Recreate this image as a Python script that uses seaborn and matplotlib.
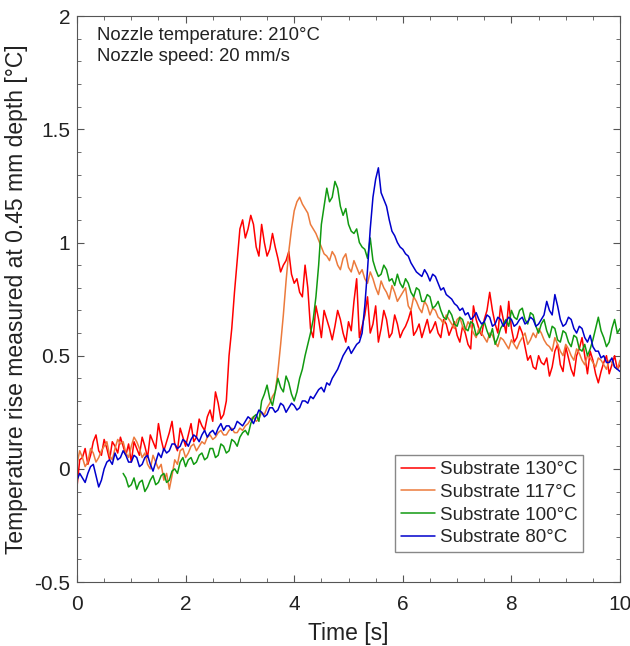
import numpy as np
import pandas as pd
import matplotlib
matplotlib.use('Agg')
import matplotlib.pyplot as plt
from matplotlib.ticker import MultipleLocator, FormatStrFormatter
import seaborn as sns

# time axis, one reading every 0.05 s
time = np.round(np.linspace(0, 10, 201), 2)

substrate_130 = [
    -0.08, 0.04, 0.05, 0.09, 0.02, 0.06, 0.12, 0.15, 0.08, 0.06,
    0.13, 0.09, 0.04, 0.12, 0.10, 0.07, 0.14, 0.10, 0.06, 0.11,
    0.03, 0.12, 0.09, 0.06, 0.14, 0.10, 0.05, 0.15, 0.12, 0.09,
    0.20, 0.13, 0.08, 0.12, 0.16, 0.21, 0.11, 0.08, 0.18, 0.14,
    0.10, 0.15, 0.20, 0.12, 0.14, 0.22, 0.19, 0.17, 0.23, 0.26,
    0.21, 0.34, 0.29, 0.22, 0.24, 0.30, 0.50, 0.62, 0.78, 0.92,
    1.06, 1.10, 1.02, 1.06, 1.12, 1.08, 0.98, 0.94, 1.08, 1.00,
    0.94, 0.97, 1.04, 0.98, 0.93, 0.87, 0.90, 0.92, 0.96, 0.86,
    0.82, 0.84, 0.78, 0.76, 0.90, 0.80, 0.62, 0.58, 0.72, 0.66,
    0.58, 0.70, 0.66, 0.62, 0.57, 0.63, 0.70, 0.66, 0.60, 0.56,
    0.65, 0.61, 0.74, 0.84, 0.58, 0.63, 0.68, 0.76, 0.60, 0.64,
    0.72, 0.56, 0.62, 0.70, 0.66, 0.58, 0.60, 0.68, 0.64, 0.58,
    0.61, 0.63, 0.66, 0.70, 0.59, 0.61, 0.64, 0.58, 0.62, 0.66,
    0.60, 0.62, 0.65, 0.60, 0.58, 0.66, 0.64, 0.59, 0.62, 0.65,
    0.59, 0.56, 0.63, 0.60, 0.55, 0.53, 0.72, 0.66, 0.62, 0.59,
    0.66, 0.70, 0.78, 0.70, 0.64, 0.60, 0.72, 0.66, 0.60, 0.74,
    0.62, 0.56, 0.58, 0.63, 0.60, 0.54, 0.48, 0.50, 0.45, 0.44,
    0.50, 0.47, 0.46, 0.49, 0.41, 0.45, 0.52, 0.55, 0.46, 0.43,
    0.54, 0.49, 0.44, 0.41, 0.50, 0.53, 0.58, 0.50, 0.42, 0.52,
    0.48, 0.42, 0.38, 0.43, 0.47, 0.50, 0.42, 0.46, 0.50, 0.44,
    0.46]

substrate_117 = [
    0.02, 0.08, 0.05, 0.01, 0.03, 0.09, 0.07, 0.03, 0.05, 0.08,
    0.10, 0.12, 0.06, 0.04, 0.09, 0.13, 0.11, 0.12, 0.07, 0.05,
    0.10, 0.14, 0.12, 0.09, 0.05, 0.07, 0.02, 0.00, 0.06, 0.03,
    0.00, 0.02, -0.05, -0.02, -0.09, -0.03, 0.04, 0.02, 0.08, 0.09,
    0.05, 0.07, 0.10, 0.11, 0.08, 0.10, 0.12, 0.11, 0.14, 0.15,
    0.13, 0.14, 0.16, 0.17, 0.15, 0.15, 0.17, 0.18, 0.16, 0.16,
    0.18, 0.17, 0.19, 0.20, 0.22, 0.23, 0.21, 0.22, 0.25, 0.24,
    0.27, 0.29, 0.32, 0.34, 0.43, 0.55, 0.68, 0.83, 0.96, 1.06,
    1.14, 1.18, 1.20, 1.17, 1.15, 1.13, 1.08, 1.06, 1.04, 1.01,
    0.98, 0.95, 0.94, 0.92, 0.96, 0.94, 0.90, 0.88, 0.93, 0.95,
    0.89, 0.87, 0.92, 0.89, 0.86, 0.88, 0.84, 0.82, 0.87, 0.84,
    0.80, 0.77, 0.83, 0.80, 0.78, 0.75, 0.81, 0.78, 0.74, 0.76,
    0.78, 0.80, 0.72, 0.70, 0.76, 0.74, 0.71, 0.69, 0.74, 0.72,
    0.68, 0.71, 0.70, 0.67, 0.66, 0.64, 0.68, 0.66, 0.64, 0.62,
    0.66, 0.67, 0.63, 0.61, 0.65, 0.63, 0.60, 0.58, 0.62, 0.60,
    0.58, 0.56, 0.60, 0.59, 0.56, 0.54, 0.58, 0.57, 0.55, 0.53,
    0.57, 0.55, 0.53, 0.56, 0.58, 0.60, 0.55, 0.57, 0.60, 0.58,
    0.62, 0.60, 0.57, 0.55, 0.54, 0.52, 0.58, 0.55, 0.52, 0.50,
    0.55, 0.53, 0.50, 0.48, 0.53, 0.51, 0.48, 0.46, 0.50, 0.49,
    0.47, 0.45, 0.49, 0.48, 0.46, 0.44, 0.48, 0.47, 0.45, 0.44,
    0.48]

# the 100 °C probe starts recording at about 0.85 s
substrate_100 = [np.nan] * 17 + [
    -0.02, -0.04, -0.08,
    -0.07, -0.04, -0.09, -0.06, -0.05, -0.10, -0.08, -0.05, -0.03, -0.07,
    -0.06, -0.03, -0.02, -0.06, -0.05, -0.01, 0.00, -0.02, 0.03, 0.05,
    0.01, 0.04, 0.05, 0.02, 0.03, 0.06, 0.07, 0.04, 0.05, 0.09,
    0.09, 0.05, 0.06, 0.11, 0.10, 0.07, 0.08, 0.13, 0.12, 0.10,
    0.14, 0.16, 0.17, 0.15, 0.20, 0.23, 0.24, 0.21, 0.30, 0.33,
    0.37, 0.31, 0.28, 0.34, 0.40, 0.36, 0.34, 0.41, 0.38, 0.33,
    0.30, 0.34, 0.40, 0.44, 0.50, 0.55, 0.60, 0.66, 0.76, 0.90,
    1.08, 1.16, 1.24, 1.18, 1.20, 1.27, 1.24, 1.16, 1.12, 1.15,
    1.08, 1.05, 1.04, 1.06, 1.00, 0.98, 0.97, 0.93, 1.02, 0.92,
    0.88, 0.85, 0.86, 0.90, 0.88, 0.83, 0.84, 0.81, 0.86, 0.82,
    0.80, 0.84, 0.82, 0.78, 0.76, 0.80, 0.79, 0.74, 0.74, 0.77,
    0.76, 0.71, 0.72, 0.74, 0.70, 0.67, 0.66, 0.70, 0.68, 0.64,
    0.63, 0.67, 0.66, 0.62, 0.61, 0.65, 0.64, 0.59, 0.60, 0.63,
    0.65, 0.61, 0.58, 0.62, 0.55, 0.58, 0.62, 0.64, 0.66, 0.63,
    0.70, 0.67, 0.66, 0.70, 0.71, 0.66, 0.64, 0.69, 0.68, 0.63,
    0.60, 0.64, 0.66, 0.61, 0.58, 0.63, 0.62, 0.57, 0.56, 0.61,
    0.60, 0.56, 0.54, 0.59, 0.58, 0.53, 0.52, 0.55, 0.50, 0.53,
    0.57, 0.62, 0.67, 0.61, 0.58, 0.54, 0.56, 0.62, 0.66, 0.60,
    0.62]

substrate_80 = [
    -0.05, -0.02, -0.04, -0.06, -0.02, 0.01, 0.02, -0.03, -0.08, -0.05,
    0.00, 0.03, 0.04, 0.02, 0.07, 0.04, 0.05, 0.08, 0.06, 0.03,
    0.03, 0.06, 0.05, 0.01, 0.02, 0.05, 0.06, 0.02, -0.01, 0.03,
    0.07, 0.05, 0.09, 0.07, 0.08, 0.11, 0.11, 0.09, 0.10, 0.13,
    0.12, 0.10, 0.13, 0.15, 0.14, 0.12, 0.15, 0.17, 0.14, 0.16,
    0.17, 0.15, 0.18, 0.20, 0.17, 0.19, 0.19, 0.17, 0.18, 0.21,
    0.20, 0.19, 0.21, 0.23, 0.22, 0.20, 0.23, 0.26, 0.25, 0.23,
    0.24, 0.27, 0.27, 0.25, 0.26, 0.29, 0.28, 0.25, 0.27, 0.29,
    0.28, 0.26, 0.27, 0.30, 0.30, 0.29, 0.32, 0.31, 0.33, 0.35,
    0.36, 0.34, 0.38, 0.37, 0.40, 0.42, 0.44, 0.47, 0.50, 0.52,
    0.54, 0.51, 0.53, 0.55, 0.56, 0.60, 0.72, 0.88, 1.06, 1.20,
    1.28, 1.33, 1.22, 1.19, 1.16, 1.10, 1.05, 1.03, 1.00, 0.98,
    0.97, 0.95, 0.94, 0.91, 0.89, 0.87, 0.86, 0.85, 0.88, 0.86,
    0.83, 0.86, 0.85, 0.82, 0.79, 0.80, 0.77, 0.76, 0.75, 0.73,
    0.72, 0.70, 0.71, 0.68, 0.69, 0.66, 0.67, 0.69, 0.66, 0.64,
    0.65, 0.68, 0.67, 0.63, 0.64, 0.67, 0.66, 0.63, 0.65, 0.67,
    0.66, 0.63, 0.64, 0.66, 0.67, 0.64, 0.65, 0.67, 0.66, 0.63,
    0.64, 0.66, 0.68, 0.74, 0.70, 0.68, 0.77, 0.72, 0.66, 0.63,
    0.64, 0.67, 0.66, 0.62, 0.60, 0.63, 0.62, 0.58, 0.56, 0.59,
    0.54, 0.52, 0.52, 0.49, 0.50, 0.47, 0.47, 0.49, 0.45, 0.44,
    0.43]

labels = ['Substrate 130°C', 'Substrate 117°C', 'Substrate 100°C', 'Substrate 80°C']
colors = ['#ff0000', '#ec7a3c', '#119a11', '#0000cc']

df = pd.concat([
    pd.DataFrame({'time': time, 'rise': vals, 'substrate': lab})
    for vals, lab in zip([substrate_130, substrate_117, substrate_100, substrate_80], labels)
], ignore_index=True)

sns.set_style('ticks')
plt.rcParams['font.family'] = ['Liberation Sans', 'DejaVu Sans']
plt.rcParams['axes.unicode_minus'] = False

fig = plt.figure(figsize=(6.3, 6.46), dpi=100)
ax = fig.add_axes([0.1222, 0.099, 0.862, 0.876])

sns.lineplot(data=df, x='time', y='rise', hue='substrate', hue_order=labels,
             palette=colors, linewidth=1.1, ax=ax, estimator=None)

ax.set_xlim(0, 10)
ax.set_ylim(-0.5, 2)
ax.xaxis.set_major_locator(MultipleLocator(2))
ax.xaxis.set_minor_locator(MultipleLocator(0.5))
ax.yaxis.set_major_locator(MultipleLocator(0.5))
ax.yaxis.set_minor_locator(MultipleLocator(0.1))
ax.yaxis.set_major_formatter(FormatStrFormatter('%g'))
ax.tick_params(which='both', direction='in', top=True, right=True, colors='#555555',
               labelcolor='#222222', labelsize=15)
ax.tick_params(which='major', length=5)
ax.tick_params(which='minor', length=3)
ax.tick_params(axis='x', pad=9)
ax.tick_params(axis='y', pad=5)
for s in ax.spines.values():
    s.set_color('#555555')
    s.set_linewidth(0.8)

ax.set_xlabel('Time [s]', fontsize=16.5, color='#222222', labelpad=6)
ax.set_ylabel('Temperature rise measured at 0.45 mm depth [°C]', fontsize=16.5,
              color='#222222', labelpad=4)

ax.text(0.037, 0.981, 'Nozzle temperature: 210°C\nNozzle speed: 20 mm/s',
        transform=ax.transAxes, va='top', ha='left', fontsize=13.3,
        color='#222222', linespacing=1.35)

leg = ax.legend(loc='lower right', bbox_to_anchor=(0.932, 0.053), borderaxespad=0,
                fancybox=False, framealpha=1, edgecolor='#888888', fontsize=13.5,
                handlelength=1.8, handletextpad=0.27, labelspacing=0.3,
                borderpad=0.3, title=None)
for line in leg.get_lines():
    line.set_linewidth(1.1)

fig.savefig('out.png', dpi=100)
